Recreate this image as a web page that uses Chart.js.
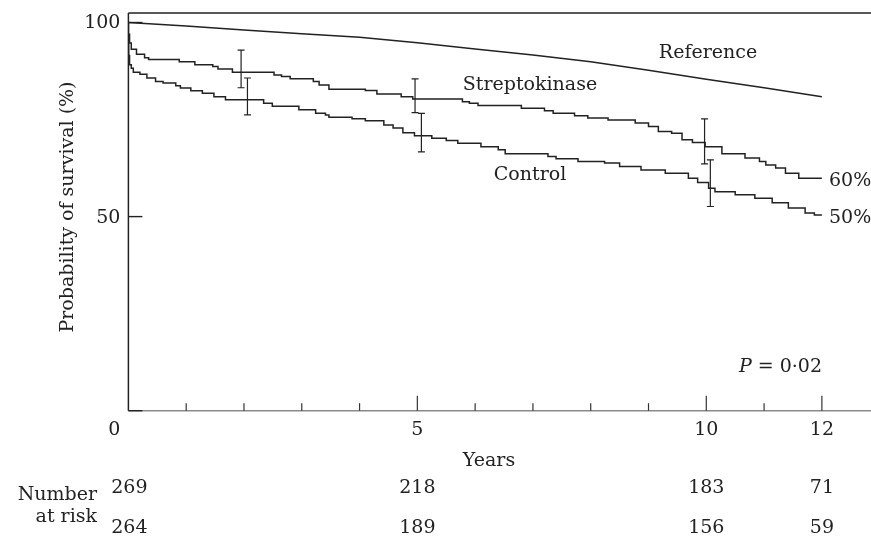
<!DOCTYPE html>
<html>
<head>
<meta charset="utf-8">
<script src="https://cdn.jsdelivr.net/npm/chart.js@4"></script>
<style>
html,body{margin:0;padding:0;background:#fff;}
canvas{display:block;}
</style>
</head>
<body>
<canvas id="c" width="871" height="537"></canvas>
<script>
// ---- data ----
const strepTimes = [0, 0.02, 0.05, 0.14, 0.28, 0.35, 0.88, 1.15, 1.46, 1.55, 1.80, 2.52, 2.65, 2.80, 3.20, 3.30, 3.47, 4.10, 4.30, 4.72, 4.92, 5.78, 5.90, 6.05, 6.80, 7.20, 7.35, 7.72, 7.95, 8.30, 8.77, 9.00, 9.17, 9.40, 9.58, 9.76, 9.98, 10.27, 10.67, 10.92, 11.03, 11.20, 11.37, 11.60, 11.83, 12.00];
const strepSurv  = [100, 97.0, 94.7, 93.1, 91.8, 90.9, 90.5, 89.9, 89.1, 88.7, 88.0, 87.2, 86.5, 86.1, 85.5, 84.8, 83.9, 82.8, 82.5, 81.6, 80.9, 80.3, 79.6, 79.2, 78.6, 77.9, 77.3, 76.6, 76.0, 75.4, 74.9, 74.1, 73.2, 71.9, 71.5, 69.8, 69.1, 68.0, 66.2, 65.1, 64.2, 63.3, 62.5, 61.2, 59.9, 59.9];

const controlTimes = [0, 0.005, 0.02, 0.05, 0.085, 0.20, 0.32, 0.47, 0.60, 0.82, 0.90, 1.08, 1.28, 1.48, 1.68, 2.34, 2.49, 2.95, 3.24, 3.41, 3.47, 3.87, 4.10, 4.42, 4.58, 4.75, 4.95, 5.25, 5.50, 5.70, 6.10, 6.40, 6.52, 7.26, 7.40, 7.78, 8.24, 8.50, 8.87, 9.29, 9.69, 9.85, 10.04, 10.15, 10.50, 10.84, 11.14, 11.42, 11.71, 11.87, 11.97, 12.00];
const controlSurv  = [100, 95.0, 91.5, 89.1, 88.2, 87.2, 86.7, 85.7, 84.8, 84.4, 83.7, 83.1, 82.4, 81.8, 80.9, 80.1, 79.2, 78.4, 77.5, 76.6, 76.2, 75.6, 75.2, 74.7, 73.6, 72.8, 71.6, 70.8, 70.2, 69.6, 68.9, 68.0, 67.2, 66.2, 65.5, 64.9, 64.2, 63.8, 62.9, 62.0, 61.2, 59.9, 58.8, 57.3, 56.4, 55.6, 54.7, 53.6, 52.2, 50.9, 50.4, 50.4];

const refTimes = [0, 1, 2, 3, 4, 5, 6, 7, 8, 9, 10, 11, 12];
const refSurv  = [100, 99.1, 98.1, 97.1, 96.2, 94.8, 93.2, 91.6, 89.9, 87.7, 85.4, 83.2, 80.9];

// error bars (95% CI) at 2, 5, 10 years
const strepErrT    = [1.95, 4.96, 9.97];
const strepErrLow  = [83.2, 76.8, 63.6];
const strepErrHigh = [92.9, 85.5, 75.2];
const controlErrT    = [2.06, 5.07, 10.07];
const controlErrLow  = [76.2, 66.7, 52.6];
const controlErrHigh = [85.7, 76.6, 64.6];

// axes / labels
const xMinorTicks = [1, 2, 3, 4, 6, 7, 8, 9, 11];
const xMajorTicks = [5, 10, 12];
const xTickLabels = [0, 5, 10, 12];
const yTicks = [0, 50, 100];
const yTickLabels = [50, 100];
const riskYears = [0, 5, 10, 12];
const riskStrep = [269, 218, 183, 71];
const riskControl = [264, 189, 156, 59];

const FONT = '"DejaVu Serif", serif';
const INK = '#222';

function pts(t, v){ return t.map((x,i)=>({x:x, y:v[i]})); }

const overlay = {
  id: 'overlay',
  beforeDatasetsDraw(chart){
    const ctx = chart.ctx, a = chart.chartArea;
    const xs = chart.scales.x, ys = chart.scales.y;
    ctx.save();
    const y0 = ys.getPixelForValue(0);
    ctx.strokeStyle = '#8a8a8a'; ctx.lineWidth = 1.6;
    ctx.beginPath(); ctx.moveTo(a.left, y0); ctx.lineTo(a.right, y0); ctx.stroke();
    ctx.strokeStyle = INK; ctx.lineWidth = 1.3;
    ctx.beginPath(); ctx.moveTo(a.left, a.top); ctx.lineTo(a.right, a.top); ctx.stroke();
    ctx.lineWidth = 1.5;
    ctx.beginPath(); ctx.moveTo(a.left, a.top); ctx.lineTo(a.left, y0); ctx.stroke();
    ctx.lineWidth = 1.4;
    yTicks.forEach(v=>{
      const py = ys.getPixelForValue(v);
      ctx.beginPath(); ctx.moveTo(a.left, py); ctx.lineTo(a.left+14, py); ctx.stroke();
    });
    ctx.strokeStyle = '#333'; ctx.lineWidth = 1.2;
    xMinorTicks.forEach(v=>{
      const px = xs.getPixelForValue(v);
      ctx.beginPath(); ctx.moveTo(px, y0); ctx.lineTo(px, y0-7.5); ctx.stroke();
    });
    xMajorTicks.forEach(v=>{
      const px = xs.getPixelForValue(v);
      ctx.beginPath(); ctx.moveTo(px, y0); ctx.lineTo(px, y0-15); ctx.stroke();
    });
    ctx.restore();
  },
  afterDatasetsDraw(chart){
    const ctx = chart.ctx, a = chart.chartArea;
    const xs = chart.scales.x, ys = chart.scales.y;
    ctx.save();
    ctx.strokeStyle = INK; ctx.lineWidth = 1.2;
    function bars(T, L, H){
      T.forEach((t,i)=>{
        const px = xs.getPixelForValue(t);
        const pl = ys.getPixelForValue(L[i]), ph = ys.getPixelForValue(H[i]);
        ctx.beginPath();
        ctx.moveTo(px, pl); ctx.lineTo(px, ph);
        ctx.moveTo(px-3.5, pl); ctx.lineTo(px+3.5, pl);
        ctx.moveTo(px-3.5, ph); ctx.lineTo(px+3.5, ph);
        ctx.stroke();
      });
    }
    bars(strepErrT, strepErrLow, strepErrHigh);
    bars(controlErrT, controlErrLow, controlErrHigh);

    ctx.fillStyle = INK;
    ctx.font = '19px ' + FONT;
    ctx.textBaseline = 'middle';
    ctx.textAlign = 'right';
    yTickLabels.forEach(v=>{
      ctx.fillText(String(v), a.left - 8, ys.getPixelForValue(v) + 1);
    });
    ctx.textAlign = 'center';
    const y0 = ys.getPixelForValue(0);
    xTickLabels.forEach(v=>{
      const off = v === 0 ? -14 : 0;
      ctx.fillText(String(v), xs.getPixelForValue(v) + off, y0 + 19);
    });
    ctx.fillText('Years', 489, y0 + 50);
    riskYears.forEach((v,i)=>{
      const px = xs.getPixelForValue(v) + (v === 0 ? 1 : 0);
      ctx.fillText(String(riskStrep[i]), px, y0 + 77);
      ctx.fillText(String(riskControl[i]), px, y0 + 117);
    });
    ctx.textAlign = 'right';
    ctx.fillText('Number', 97, y0 + 84);
    ctx.fillText('at risk', 97, y0 + 106);
    ctx.textAlign = 'center';
    ctx.fillText('Reference', 708, 53);
    ctx.fillText('Streptokinase', 530, 85);
    ctx.fillText('Control', 530, 175);
    ctx.textAlign = 'left';
    ctx.fillText('60%', 829, ys.getPixelForValue(strepSurv[strepSurv.length-1]) + 3);
    ctx.fillText('50%', 829, ys.getPixelForValue(controlSurv[controlSurv.length-1]) + 3);
    ctx.textAlign = 'right';
    const rest = ' = 0\u00B702';
    const wRest = ctx.measureText(rest).width;
    ctx.fillText(rest, 822, 367);
    ctx.font = 'italic 19px ' + FONT;
    ctx.fillText('P', 822 - wRest, 367);
    ctx.font = '19px ' + FONT;
    ctx.translate(68, 207);
    ctx.rotate(-Math.PI/2);
    ctx.textAlign = 'center';
    ctx.fillText('Probability of survival (%)', 0, 0);
    ctx.restore();
  }
};

new Chart(document.getElementById('c'), {
  type: 'line',
  data: {
    datasets: [
      { label: 'Reference', data: pts(refTimes, refSurv), borderColor: INK, borderWidth: 1.5, pointRadius: 0, tension: 0, fill: false },
      { label: 'Streptokinase', data: pts(strepTimes, strepSurv), borderColor: INK, borderWidth: 1.5, pointRadius: 0, stepped: 'after', fill: false },
      { label: 'Control', data: pts(controlTimes, controlSurv), borderColor: INK, borderWidth: 1.5, pointRadius: 0, stepped: 'after', fill: false }
    ]
  },
  options: {
    responsive: false,
    animation: false,
    devicePixelRatio: 1,
    layout: { padding: { left: 128.4, top: 13, right: 0, bottom: 126.3 } },
    scales: {
      x: { type: 'linear', min: 0, max: 12.85, display: false },
      y: { type: 'linear', min: 0, max: 102.45, display: false }
    },
    plugins: { legend: { display: false }, tooltip: { enabled: false } }
  },
  plugins: [overlay]
});
</script>
</body>
</html>
